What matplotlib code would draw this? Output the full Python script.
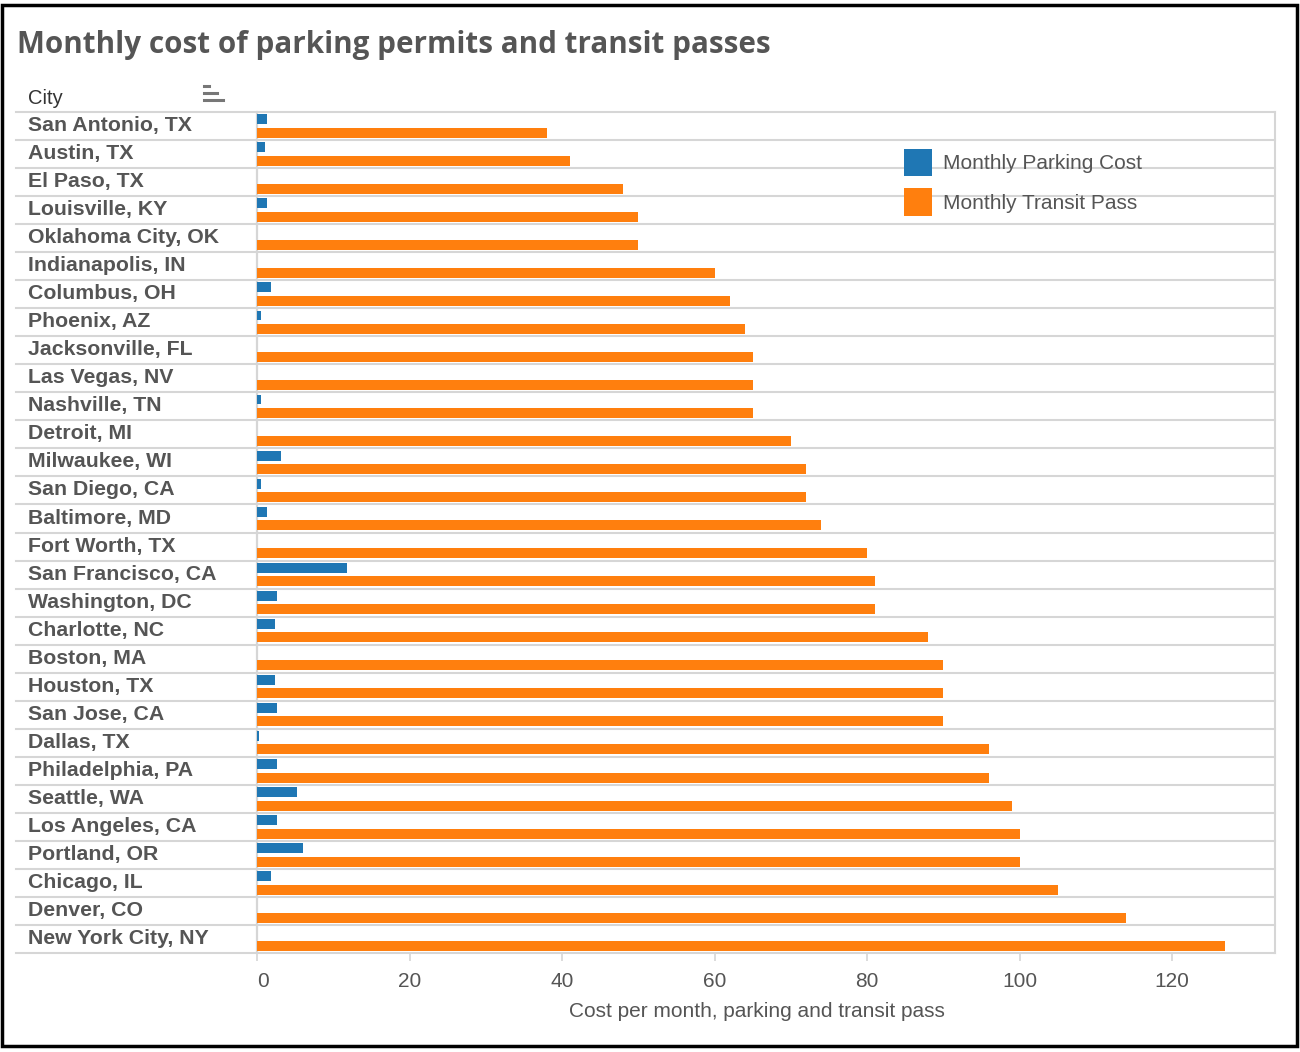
import numpy as np
import matplotlib.pyplot as plt
import matplotlib.transforms as mtransforms
from matplotlib.lines import Line2D
from matplotlib.patches import Rectangle

cities = ["San Antonio, TX", "Austin, TX", "El Paso, TX", "Louisville, KY",
          "Oklahoma City, OK", "Indianapolis, IN", "Columbus, OH", "Phoenix, AZ",
          "Jacksonville, FL", "Las Vegas, NV", "Nashville, TN", "Detroit, MI",
          "Milwaukee, WI", "San Diego, CA", "Baltimore, MD", "Fort Worth, TX",
          "San Francisco, CA", "Washington, DC", "Charlotte, NC", "Boston, MA",
          "Houston, TX", "San Jose, CA", "Dallas, TX", "Philadelphia, PA",
          "Seattle, WA", "Los Angeles, CA", "Portland, OR", "Chicago, IL",
          "Denver, CO", "New York City, NY"]
parking = [1.3, 1.05, 0, 1.3, 0, 0, 1.85, 0.5, 0, 0, 0.5, 0, 3.15, 0.5, 1.3,
           0, 11.8, 2.6, 2.35, 0, 2.35, 2.6, 0.25, 2.6, 5.25, 2.6, 6.05, 1.85, 0, 0]
transit = [38, 41, 48, 50, 50, 60, 62, 64, 65, 65, 65, 70, 72, 72, 74, 80, 81,
           81, 88, 90, 90, 90, 96, 96, 99, 100, 100, 105, 114, 127]
xticks = [0, 20, 40, 60, 80, 100, 120]

BLUE = "#1f77b4"
ORANGE = "#ff7f0e"
GRID = "#d6d6d6"
TXT = "#555555"

W, H = 1300, 1052
fx = lambda px: px / W
fy = lambda py: 1 - py / H

plt.rcParams["font.family"] = ["Liberation Sans", "DejaVu Sans"]

fig = plt.figure(figsize=(13, 10.52), dpi=100)
ax = fig.add_axes([fx(257), fy(953), fx(1275) - fx(257), fy(112) - fy(953)])

n = len(cities)
y = np.arange(n)
ax.barh(y + 0.257, parking, height=0.35, color=BLUE, linewidth=0, label="Monthly Parking Cost", zorder=3)
ax.barh(y + 0.74, transit, height=0.357, color=ORANGE, linewidth=0, label="Monthly Transit Pass", zorder=3)

ax.set_ylim(n, 0)
ax.set_xlim(0, 133.5)
ax.set_yticks([])

# row separators, extended left under the city labels
left_frac = -(257 - 16) / (1275 - 257)
for k in range(n + 1):
    ax.axhline(k, xmin=left_frac, xmax=1, color=GRID, lw=1.5, clip_on=False, zorder=1)

for i, c in enumerate(cities):
    ax.text((28 - 257) / (1275 - 257), i + 0.68, c, transform=ax.get_yaxis_transform(),
            fontsize=15.3, fontweight="bold", color=TXT, ha="left", va="baseline")

for s in ["top", "bottom"]:
    ax.spines[s].set_visible(False)
ax.spines["left"].set_color(GRID)
ax.spines["left"].set_linewidth(1.6)
ax.spines["right"].set_color(GRID)
ax.spines["right"].set_linewidth(1.5)

ax.set_xticks(xticks)
ax.set_xticklabels([str(v) for v in xticks])
ax.tick_params(axis="x", length=6, width=1.2, color=GRID, pad=7.5, labelsize=15, labelcolor=TXT)
# Tableau nudges the first label off the zero line
lab0 = ax.get_xticklabels()[0]
lab0.set_transform(lab0.get_transform() + mtransforms.ScaledTranslation(6 / 100, 0, fig.dpi_scale_trans))

leg = ax.legend(loc="upper left", bbox_to_anchor=(fx(904), fy(148.5)), bbox_transform=fig.transFigure,
                frameon=False, fontsize=15, handlelength=1.35, handleheight=1.62,
                handletextpad=0.5, labelspacing=0.62, borderpad=0, borderaxespad=0)
for t in leg.get_texts():
    t.set_color(TXT)

fig.text(fx(17), fy(52.5), "Monthly cost of parking permits and transit passes",
         fontsize=21.3, fontweight="bold", color=TXT, family=["Open Sans", "DejaVu Sans"],
         ha="left", va="baseline")
fig.text(fx(28), fy(99), "City", fontsize=14.5, color="#333333", ha="left", va="center")
fig.text(fx(757), fy(1011.5), "Cost per month, parking and transit pass",
         fontsize=15, color=TXT, ha="center", va="center")

# sort icon next to the City header
for x1, yy in [(209, 85.5), (217, 93), (223, 100)]:
    fig.add_artist(Line2D([fx(204), fx(x1)], [fy(yy), fy(yy)], color="#777777", lw=2.2))

# screenshot border
fig.add_artist(Rectangle((fx(2), fy(1046)), fx(1297) - fx(2), fy(5) - fy(1046),
                         fill=False, edgecolor="black", lw=2.5, transform=fig.transFigure))

fig.savefig("out.png", dpi=100)
